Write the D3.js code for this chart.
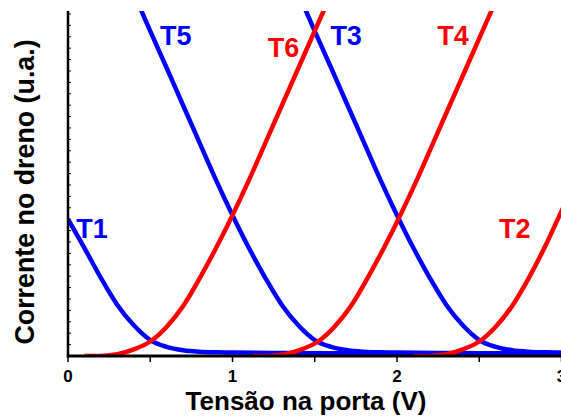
<!DOCTYPE html>
<html><head><meta charset="utf-8">
<script src="https://cdn.jsdelivr.net/npm/d3@7"></script>
<style>
html,body{margin:0;padding:0;background:#fff;}
svg text{font-family:"Liberation Sans",Arial,Helvetica,sans-serif;font-weight:bold;}
</style></head>
<body><svg id="c" width="561" height="418"></svg>
<script>
// ---- data (gate voltage in V, drain current in arbitrary units) ----
const t6V = [0.1,0.2,0.3,0.4,0.5,0.6,0.7,0.8,0.9,1.0,1.1,1.2,1.3,1.4,1.5,1.6,1.7];
const t6I = [0,0.01,0.15,0.58,1.27,2.57,4.39,6.81,9.47,12.35,15.43,18.70,21.97,25.24,28.51,31.77,35.0];
const t4V = [1.12,1.22,1.32,1.42,1.52,1.62,1.72,1.82,1.92,2.02,2.12,2.22,2.32,2.42,2.52,2.62,2.72];
const t4I = [0,0.01,0.15,0.58,1.27,2.57,4.39,6.81,9.47,12.35,15.43,18.70,21.97,25.24,28.51,31.77,35.0];
const t2V = [2.1,2.2,2.3,2.4,2.5,2.6,2.7,2.8,2.9,3.0,3.05];
const t2I = [0,0.01,0.15,0.58,1.27,2.57,4.39,6.81,9.60,12.7,14.2];
const t1V = [0,0.1,0.2,0.3,0.4,0.5,0.6,0.7,0.8,0.9,1.0,1.25,1.5,2.0,2.5,3.05];
const t1I = [12.0,9.47,6.84,4.48,2.69,1.40,0.80,0.50,0.37,0.32,0.30,0.27,0.25,0.24,0.23,0.23];
const t5V = [0.3,0.4,0.5,0.6,0.7,0.8,0.9,1.0,1.1,1.2,1.3,1.4,1.5,1.6,1.7,1.8,1.9,2.0,2.25,2.5,3.05];
const t5I = [35.0,31.8,28.5,25.26,21.97,18.7,15.43,12.35,9.47,6.84,4.48,2.69,1.40,0.80,0.50,0.37,0.32,0.30,0.27,0.25,0.24];
const t3V = [1.3,1.4,1.5,1.6,1.7,1.8,1.9,2.0,2.1,2.2,2.3,2.4,2.5,2.6,2.7,2.8,2.9,3.0,3.05];
const t3I = [35.0,31.8,28.5,25.26,21.97,18.7,15.43,12.35,9.47,6.84,4.48,2.69,1.40,0.80,0.50,0.37,0.32,0.30,0.29];
const curveNames  = ["T1","T2","T3","T4","T5","T6"];
const curveColors = {T1:"#0000ff",T3:"#0000ff",T5:"#0000ff",T2:"#ff0000",T4:"#ff0000",T6:"#ff0000"};
const xTickLabels = ["0","1","2","3"];
const xTicks = [0,0.5,1,1.5,2,2.5,3];

const series = {
  T1:{v:t1V,i:t1I}, T2:{v:t2V,i:t2I}, T3:{v:t3V,i:t3I},
  T4:{v:t4V,i:t4I}, T5:{v:t5V,i:t5I}, T6:{v:t6V,i:t6I}
};
// label positions (in data units)
const labelPos = {T1:[0.05,10.35],T5:[0.56,27.3],T6:[1.215,26.2],T3:[1.595,27.3],T4:[2.245,27.3],T2:[2.62,10.35]};

const svg = d3.select("#c");
const L=68, R=561.5, T=11, B=356;
const x = d3.scaleLinear().domain([0,3]).range([L,R]);
const y = d3.scaleLinear().domain([0,30.26]).range([B,T]);

svg.append("defs").append("clipPath").attr("id","clip")
  .append("rect").attr("x",L).attr("y",T).attr("width",R-L+2).attr("height",B-T);

// y axis minor ticks (inside)
const yTicks = d3.range(1,31).filter(d=>y(d)>=T);
svg.append("g").selectAll("line").data(yTicks).join("line")
  .attr("x1",L).attr("x2",L+3).attr("y1",d=>y(d)).attr("y2",d=>y(d))
  .attr("stroke","#000").attr("stroke-width",1);

const line = d3.line().x(d=>x(d[0])).y(d=>y(d[1])).curve(d3.curveMonotoneX);
const g = svg.append("g").attr("clip-path","url(#clip)");
["T1","T5","T3","T6","T4","T2"].forEach(n=>{
  const s = series[n];
  g.append("path").datum(s.v.map((v,k)=>[v,s.i[k]]))
   .attr("d",line).attr("fill","none").attr("stroke",curveColors[n])
   .attr("stroke-width",4.5).attr("stroke-linejoin","round");
});

// x axis ticks
svg.append("g").selectAll("line").data(xTicks).join("line")
  .attr("x1",d=>x(d)).attr("x2",d=>x(d)).attr("y1",B).attr("y2",B+6)
  .attr("stroke","#000").attr("stroke-width",1.5);
svg.append("g").selectAll("text").data(xTickLabels).join("text")
  .attr("x",d=>x(+d)).attr("y",381.5).attr("text-anchor","middle")
  .attr("font-size",17).text(d=>d);

// axis lines
svg.append("line").attr("x1",L).attr("x2",L).attr("y1",T).attr("y2",B+1.5)
  .attr("stroke","#000").attr("stroke-width",2.5);
svg.append("line").attr("x1",L-1.2).attr("x2",561).attr("y1",B).attr("y2",B)
  .attr("stroke","#000").attr("stroke-width",3);

// curve labels
svg.append("g").selectAll("text").data(curveNames).join("text")
  .attr("x",d=>x(labelPos[d][0])).attr("y",d=>y(labelPos[d][1]))
  .attr("fill",d=>curveColors[d]).attr("font-size",27).text(d=>d);

// axis titles
svg.append("text").attr("x",306).attr("y",410).attr("text-anchor","middle")
  .attr("font-size",26).text("Tensão na porta (V)");
svg.append("text").attr("transform","translate(33.5,192) rotate(-90)")
  .attr("text-anchor","middle").attr("font-size",26.8).text("Corrente no dreno (u.a.)");
</script></body></html>
